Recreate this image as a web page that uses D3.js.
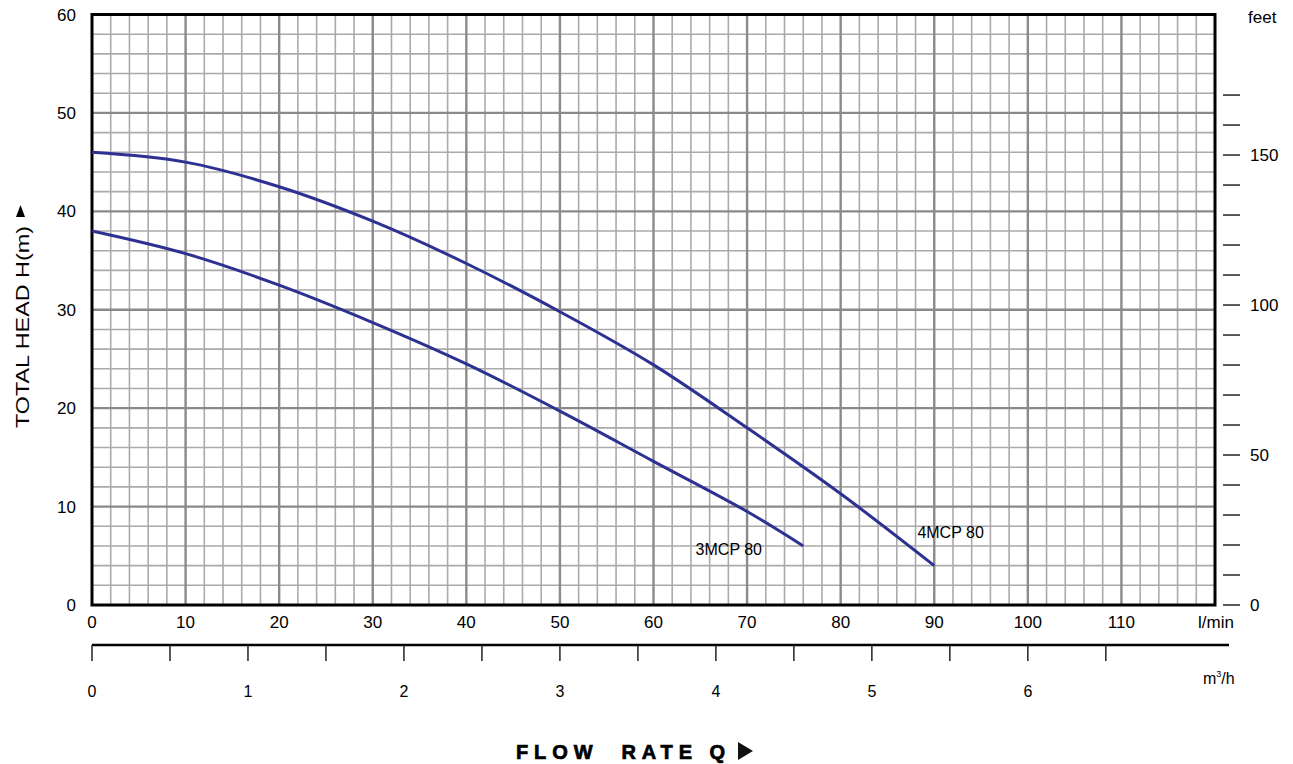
<!DOCTYPE html>
<html><head><meta charset="utf-8">
<script src="https://cdn.jsdelivr.net/npm/d3@7"></script>
<style>body{margin:0;background:#fff}svg{display:block;font-family:"Liberation Sans",Arial,sans-serif}</style>
</head><body><svg id="c" width="1293" height="764"></svg>
<script>
const flowLmin = [0,10,20,30,40,50,60,70,80,90];
const head4MCP80 = [46.0,45.0,42.5,39.0,34.7,29.8,24.4,18.0,11.3,4.0];
const flow3 = [0,10,20,30,40,50,60,70,76];
const head3MCP80 = [38.0,35.7,32.5,28.7,24.5,19.7,14.6,9.5,6.0];
const xTicks = [0,10,20,30,40,50,60,70,80,90,100,110];
const yTicks = [0,10,20,30,40,50,60];
const feetTicks = d3.range(0,171,10);
const feetLabels = [0,50,100,150];
const m3hTicks = d3.range(0,6.51,0.5);
const m3hLabels = [0,1,2,3,4,5,6];

const svg = d3.select("#c");
const L=92,R=1215,T=14.5,B=605;
const x = d3.scaleLinear().domain([0,120]).range([L,R]);
const y = d3.scaleLinear().domain([0,60]).range([B,T]);
const yFt = d3.scaleLinear().domain([0,60/0.3048]).range([B,T]);
const xM3 = d3.scaleLinear().domain([0,120*60/1000]).range([L,R]);

const g = svg.append("g");
// minor grid
d3.range(2,120,2).filter(v=>v%10!==0).forEach(v=>{
  g.append("line").attr("x1",x(v)).attr("x2",x(v)).attr("y1",T).attr("y2",B).attr("stroke","#aaa").attr("stroke-width",1.6);
});
d3.range(2,60,2).filter(v=>v%10!==0).forEach(v=>{
  g.append("line").attr("y1",y(v)).attr("y2",y(v)).attr("x1",L).attr("x2",R).attr("stroke","#aaa").attr("stroke-width",1.6);
});
// major grid
xTicks.filter(v=>v>0).forEach(v=>{
  g.append("line").attr("x1",x(v)).attr("x2",x(v)).attr("y1",T).attr("y2",B).attr("stroke","#8a8a8a").attr("stroke-width",2.4);
});
yTicks.filter(v=>v>0&&v<60).forEach(v=>{
  g.append("line").attr("y1",y(v)).attr("y2",y(v)).attr("x1",L).attr("x2",R).attr("stroke","#8a8a8a").attr("stroke-width",2.4);
});
// border
g.append("rect").attr("x",L).attr("y",T).attr("width",R-L).attr("height",B-T).attr("fill","none").attr("stroke","#000").attr("stroke-width",3);

// curves
const line = d3.line().x(d=>x(d[0])).y(d=>y(d[1])).curve(d3.curveCatmullRom);
svg.append("path").datum(flowLmin.map((f,i)=>[f,head4MCP80[i]])).attr("d",line).attr("fill","none").attr("stroke","#2e3192").attr("stroke-width",3);
svg.append("path").datum(flow3.map((f,i)=>[f,head3MCP80[i]])).attr("d",line).attr("fill","none").attr("stroke","#2e3192").attr("stroke-width",3);
svg.append("text").attr("x",x(64.5)).attr("y",y(5.1)).attr("font-size",16).attr("fill","#000").text("3MCP 80");
svg.append("text").attr("x",x(88.2)).attr("y",y(6.8)).attr("font-size",16).attr("fill","#000").text("4MCP 80");

// left y labels
yTicks.forEach(v=>{
  svg.append("text").attr("x",76).attr("y",y(v)+6).attr("text-anchor","end").attr("font-size",17).text(v);
});
// bottom l/min labels
xTicks.forEach(v=>{
  svg.append("text").attr("x",x(v)).attr("y",628).attr("text-anchor","middle").attr("font-size",17).text(v);
});
svg.append("text").attr("x",1216).attr("y",628).attr("text-anchor","middle").attr("font-size",17).text("l/min");

// right feet axis
feetTicks.forEach(v=>{
  svg.append("line").attr("x1",1223).attr("x2",1240).attr("y1",yFt(v)).attr("y2",yFt(v)).attr("stroke","#000").attr("stroke-width",1.3);
});
feetLabels.forEach(v=>{
  svg.append("text").attr("x",1250).attr("y",yFt(v)+6).attr("font-size",17).text(v);
});
svg.append("text").attr("x",1248).attr("y",23).attr("font-size",17).text("feet");

// m3/h axis
svg.append("line").attr("x1",L).attr("x2",1229).attr("y1",645).attr("y2",645).attr("stroke","#000").attr("stroke-width",2.5);
m3hTicks.forEach(v=>{
  svg.append("line").attr("x1",xM3(v)).attr("x2",xM3(v)).attr("y1",645).attr("y2",661).attr("stroke","#222").attr("stroke-width",1.5);
});
m3hLabels.forEach(v=>{
  svg.append("text").attr("x",xM3(v)).attr("y",697).attr("text-anchor","middle").attr("font-size",16).text(v);
});
const mt = svg.append("text").attr("x",1203).attr("y",684).attr("font-size",16);
mt.append("tspan").text("m");
mt.append("tspan").attr("font-size",9).attr("dy",-7).text("3");
mt.append("tspan").attr("dy",7).text("/h");

// titles
svg.append("text").attr("x",516).attr("y",759).attr("font-size",20).attr("font-weight",900)
  .attr("stroke","#000").attr("stroke-width",0.7)
  .attr("textLength",209).attr("lengthAdjust","spacing").attr("style","white-space:pre").text("FLOW  RATE Q");
svg.append("path").attr("d","M738,742 L753,751 L738,760 Z").attr("fill","#111");
svg.append("text").attr("transform","translate(29,428) rotate(-90) scale(1.23,1)").attr("font-size",19)
  .text("TOTAL HEAD H(m)");
svg.append("path").attr("d","M16,217 L20.5,205 L25,217 Z").attr("fill","#000");
</script></body></html>
